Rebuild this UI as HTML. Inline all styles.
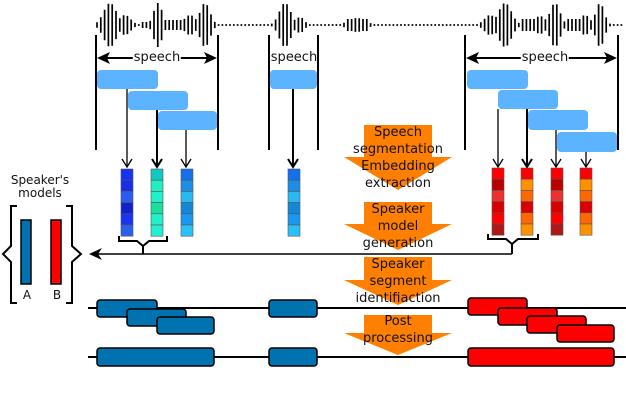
<!DOCTYPE html>
<html><head><meta charset="utf-8"><style>
html,body{margin:0;padding:0;background:#fff;}
#w{position:relative;width:626px;height:400px;overflow:hidden;}
svg{display:block;position:absolute;left:0;top:0;}
.l{position:absolute;font-family:"DejaVu Sans","Liberation Sans",sans-serif;font-size:13px;line-height:17px;color:#111;text-align:center;white-space:nowrap;transform:translateX(-50%);}
.s{font-size:12px;line-height:13px;}
.bg{background:#fff;padding:0 1px;}
</style></head><body><div id="w">
<svg id="s" width="626" height="400" viewBox="0 0 626 400" xmlns="http://www.w3.org/2000/svg">
<g id="wave" stroke="#000" stroke-width="1.7" fill="none"></g>
<g stroke="#000" stroke-width="2">
<line x1="96" y1="35" x2="96" y2="150"/><line x1="218" y1="35" x2="218" y2="150"/>
<line x1="269" y1="35" x2="269" y2="150"/><line x1="318" y1="35" x2="318" y2="150"/>
<line x1="465" y1="35" x2="465" y2="150"/><line x1="618" y1="35" x2="618" y2="150"/>
</g>
<g stroke="#000" stroke-width="2">
<line x1="100" y1="58" x2="214" y2="58"/><line x1="469" y1="58" x2="614" y2="58"/>
</g>
<g fill="#000">
<polygon points="97,58 110,52 107,58 110,64"/><polygon points="217,58 204,52 207,58 204,64"/>
<polygon points="466,58 479,52 476,58 479,64"/><polygon points="617,58 604,52 607,58 604,64"/>
</g>
<g fill="#5cb3ff">
<rect x="97" y="70" width="61" height="19" rx="4"/>
<rect x="128" y="91" width="60" height="19" rx="4"/>
<rect x="158" y="111" width="59" height="19" rx="4"/>
<rect x="270" y="70" width="47" height="19" rx="4"/>
<rect x="467" y="70" width="61" height="19" rx="4"/>
<rect x="498" y="90" width="60" height="19" rx="4"/>
<rect x="528" y="110" width="60" height="20" rx="4"/>
<rect x="557" y="132" width="60" height="20" rx="4"/>
</g>
<g stroke="#000" stroke-width="1.3" fill="none">
<path d="M127,89V167M122,159L127,167L132,159"/>
<path d="M157,110V167M152,159L157,167L162,159" stroke-width="2"/>
<path d="M186,130V167M181,159L186,167L191,159"/>
<path d="M293,89V167M288,159L293,167L298,159" stroke-width="2"/>
<path d="M498,109V167M493,159L498,167L503,159"/>
<path d="M527,109V167M522,159L527,167L532,159" stroke-width="2"/>
<path d="M556,130V167M551,159L556,167L561,159"/>
<path d="M586,152V167M581,159L586,167L591,159"/>
</g>
<g id="vecs" stroke="#555" stroke-width="0.6"></g>
<g stroke="#000" stroke-width="2" fill="none">
<path d="M119,236V241H137L143,246L149,241H167V236"/>
<path d="M143,246V254"/>
<path d="M488,234V239H506L512,244L518,239H538V234"/>
<path d="M512,244V254"/>
<path d="M93,254H512" stroke-width="1.5"/>
</g>
<polygon points="89,254 102,248 98,254 102,260" fill="#000"/>
<g stroke="#000" stroke-width="2" fill="none">
<path d="M17,206H11V246L3,254L11,262V303H17"/>
<path d="M66,206H72V246L81,254L72,262V303H66"/>
</g>
<rect x="21" y="220" width="10" height="64" fill="#0072b0" stroke="#000" stroke-width="1.5"/>
<rect x="51" y="220" width="10" height="64" fill="#ff0000" stroke="#000" stroke-width="1.5"/>
<g fill="#ff8000">
<polygon points="364,125 432,125 432,157 452,157 398,190 344,157 364,157"/>
<polygon points="364,202 432,202 432,224 452,224 398,250 344,224 364,224"/>
<polygon points="364,257 432,257 432,280 452,280 398,305 344,280 364,280"/>
<polygon points="364,315 432,315 432,333 452,333 398,355 344,333 364,333"/>
</g>
<g stroke="#000" stroke-width="2">
<line x1="88" y1="308" x2="626" y2="308"/><line x1="88" y1="357" x2="626" y2="357"/>
</g>
<g stroke="#000" stroke-width="1.5">
<rect x="97" y="300" width="60" height="17" rx="3" fill="#0072b0"/>
<rect x="127" y="309" width="59" height="17" rx="3" fill="#0072b0"/>
<rect x="157" y="317" width="57" height="17" rx="3" fill="#0072b0"/>
<rect x="269" y="300" width="48" height="17" rx="3" fill="#0072b0"/>
<rect x="468" y="298" width="59" height="17" rx="3" fill="#ff0000"/>
<rect x="498" y="308" width="59" height="17" rx="3" fill="#ff0000"/>
<rect x="527" y="316" width="59" height="17" rx="3" fill="#ff0000"/>
<rect x="557" y="325" width="57" height="17" rx="3" fill="#ff0000"/>
<rect x="97" y="348" width="117" height="18" rx="3" fill="#0072b0"/>
<rect x="269" y="348" width="48" height="18" rx="3" fill="#0072b0"/>
<rect x="468" y="348" width="146" height="18" rx="3" fill="#ff0000"/>
</g>
</svg>
<div class="l bg" style="left:157px;top:49px">speech</div>
<div class="l" style="left:294px;top:49px">speech</div>
<div class="l bg" style="left:545px;top:49px">speech</div>
<div class="l s" style="left:40px;top:174px">Speaker's<br>models</div>
<div class="l s" style="left:27px;top:289px">A</div>
<div class="l s" style="left:57px;top:289px">B</div>
<div class="l" style="left:398px;top:124px">Speech<br>segmentation<br>Embedding<br>extraction</div>
<div class="l" style="left:398px;top:201px">Speaker<br>model<br>generation</div>
<div class="l" style="left:398px;top:256px">Speaker<br>segment<br>identifiaction</div>
<div class="l" style="left:398px;top:313px">Post<br>processing</div>
</div>
<script>
(function(){
var NS="http://www.w3.org/2000/svg";
var peaks=[[110,22,9],[125,10,8],[158,22,6],[205,22,7],[190,10,8],[285,22,8],[300,8,6],[505,22,9],[490,10,8],[555,22,7],[540,9,8],[600,22,6],[585,10,7],[357,7,12]];
var d="";
for(var x=97;x<=624;x+=3.8){
 var a=0;
 peaks.forEach(function(p){var v=p[1]*Math.exp(-Math.pow((x-p[0])/p[2],2));if(v>a)a=v;});
 if(x>140&&x<152)a=Math.max(a,3);
 if(x>165&&x<195)a=Math.max(a,5);
 if(x>345&&x<368)a=Math.max(a,6);
 if(x>520&&x<540)a=Math.max(a,6);
 if(x>565&&x<590)a=Math.max(a,6);
 if(a<1.2)a=0.9;
 d+="M"+x.toFixed(1)+","+(25-a).toFixed(1)+"V"+(25+a).toFixed(1);
}
var p=document.createElementNS(NS,"path");p.setAttribute("d",d);
document.getElementById("wave").appendChild(p);
var g=document.getElementById("vecs");
function vec(x,y,cols){cols.forEach(function(c,i){var r=document.createElementNS(NS,"rect");
r.setAttribute("x",x);r.setAttribute("y",y+i*11.2);r.setAttribute("width",12);r.setAttribute("height",11.2);r.setAttribute("fill",c);g.appendChild(r);});}
vec(121,169,["#1533f0","#1a2ee6","#2a5cf0","#0f22cc","#1a33ee","#2a60ee"]);
vec(151,169,["#12c8c0","#20f0c0","#22f0c8","#18e0a0","#22f0c8","#22f0d0"]);
vec(181,169,["#1570ee","#1a8ee8","#2ab8f0","#1488d8","#1a98f0","#2ac0f8"]);
vec(288,169,["#1570ee","#1a8ee8","#2ab8f0","#1488d8","#1a98f0","#2ac0f8"]);
vec(492,168,["#ff0000","#b80000","#ee3030","#d80000","#ff0000","#b01818"]);
vec(521,168,["#ff0000","#ff9000","#ff6800","#d80000","#ff6800","#ff9000"]);
vec(551,168,["#ff0000","#b80000","#ee3030","#d80000","#ff0000","#b01818"]);
vec(580,168,["#ff0000","#ff9000","#ff6800","#d80000","#ff6800","#ff9000"]);
})();
</script>
</body></html>
